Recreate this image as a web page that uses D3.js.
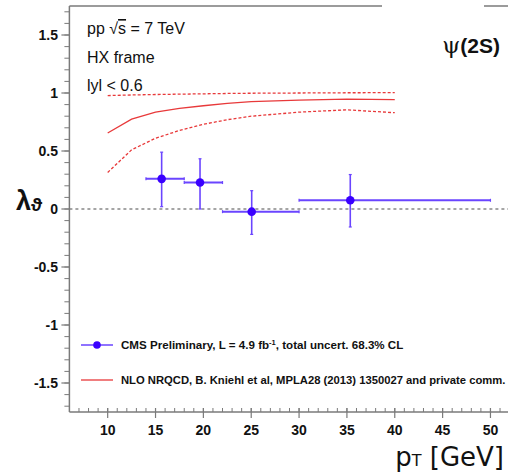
<!DOCTYPE html>
<html><head><meta charset="utf-8">
<script src="https://cdn.jsdelivr.net/npm/d3@7"></script>
<style>
html,body{margin:0;padding:0;background:#fff;}
svg{display:block;}
text{font-family:"Liberation Sans",Arial,Helvetica,sans-serif;}
</style></head>
<body>
<script>
// ---- data ----
const xTickValues = [10, 15, 20, 25, 30, 35, 40, 45, 50];
const yTickValues = [-1.5, -1, -0.5, 0, 0.5, 1, 1.5];
const yTickLabels = ["-1.5", "-1", "-0.5", "0", "0.5", "1", "1.5"];

const ptCenter = [15.64, 19.65, 25.05, 35.35];
const ptLow    = [14, 18, 22, 30];
const ptHigh   = [18, 22, 30, 50];
const lambdaTheta = [0.26, 0.228, -0.023, 0.075];
const lambdaErrTop = [0.49, 0.433, 0.158, 0.297];
const lambdaErrBottom = [0.02, 0.0, -0.219, -0.155];

const theoryPt      = [10, 12.5, 15, 17.5, 20, 22.5, 25, 30, 35, 40];
const theoryCentral = [0.655, 0.775, 0.835, 0.867, 0.89, 0.91, 0.926, 0.938, 0.948, 0.943];
const theoryLower   = [0.315, 0.51, 0.61, 0.677, 0.73, 0.77, 0.80, 0.835, 0.855, 0.83];
const theoryUpper   = [0.978, 0.983, 0.987, 0.99, 0.993, 0.996, 0.998, 1.0, 1.002, 1.003];

const legendLabels = ["CMS Preliminary, L = 4.9 fb", "NLO NRQCD, B. Kniehl et al, MPLA28 (2013) 1350027 and private comm."];

// ---- layout ----
const W = 508, H = 473;
const svg = d3.select("body").append("svg").attr("width", W).attr("height", H);
const x = d3.scaleLinear().domain([6, 52]).range([69.4, 509.6]);
const y = d3.scaleLinear().domain([-1.75, 1.75]).range([412, 6]);

const axisColor = "#7a7a7a";
const blue = "#3a00ff";
const blueLine = "#6a45ff";
const red = "#e8393a";

// frame top line
svg.append("line").attr("x1", x(6)).attr("x2", W).attr("y1", y(1.75)).attr("y2", y(1.75))
  .attr("stroke", axisColor).attr("stroke-width", 1.5);
// white box behind psi(2S) label (covers frame)
svg.append("rect").attr("x", 382).attr("y", 0).attr("width", 102).attr("height", 14).attr("fill", "#fff");

// zero line
svg.append("line").attr("x1", x(6)).attr("x2", W).attr("y1", y(0)).attr("y2", y(0))
  .attr("stroke", "#888").attr("stroke-width", 1.3).attr("stroke-dasharray", "3,3");

// y axis
const gy = svg.append("g");
gy.append("line").attr("x1", x(6)).attr("x2", x(6)).attr("y1", y(1.75)).attr("y2", y(-1.75))
  .attr("stroke", axisColor).attr("stroke-width", 1.5);
const yMinor = d3.range(-17, 18).map(d => d / 10);
gy.selectAll("line.minor").data(yMinor).enter().append("line").attr("class", "minor")
  .attr("x1", x(6) - 5).attr("x2", x(6)).attr("y1", d => y(d)).attr("y2", d => y(d))
  .attr("stroke", axisColor).attr("stroke-width", 1);
gy.selectAll("line.major").data(yTickValues).enter().append("line").attr("class", "major")
  .attr("x1", x(6) - 8).attr("x2", x(6)).attr("y1", d => y(d)).attr("y2", d => y(d))
  .attr("stroke", axisColor).attr("stroke-width", 1.2);
gy.selectAll("text").data(yTickValues).enter().append("text")
  .attr("x", 58).attr("y", d => y(d) + 5).attr("text-anchor", "end")
  .attr("font-size", 14).attr("font-weight", "bold").attr("fill", "#111")
  .text((d, i) => yTickLabels[i]);

// x axis
const gx = svg.append("g");
gx.append("line").attr("x1", x(6)).attr("x2", W).attr("y1", y(-1.75)).attr("y2", y(-1.75))
  .attr("stroke", axisColor).attr("stroke-width", 1.5);
const xMinor = d3.range(7, 53);
gx.selectAll("line.minor").data(xMinor).enter().append("line").attr("class", "minor")
  .attr("x1", d => x(d)).attr("x2", d => x(d)).attr("y1", y(-1.75) - 4).attr("y2", y(-1.75))
  .attr("stroke", axisColor).attr("stroke-width", 1);
gx.selectAll("line.major").data(xTickValues).enter().append("line").attr("class", "major")
  .attr("x1", d => x(d)).attr("x2", d => x(d)).attr("y1", y(-1.75) - 4).attr("y2", y(-1.75) + 6)
  .attr("stroke", axisColor).attr("stroke-width", 1.2);
gx.selectAll("text").data(xTickValues).enter().append("text")
  .attr("x", d => x(d)).attr("y", 435).attr("text-anchor", "middle")
  .attr("font-size", 14).attr("font-weight", "bold").attr("fill", "#111")
  .text(d => d);

// axis titles
const yt = svg.append("text").attr("x", 16).attr("y", 210).attr("fill", "#111");
yt.append("tspan").attr("font-size", 27).attr("font-weight", "bold").text("λ");
yt.append("tspan").attr("font-size", 19).attr("font-weight", "bold").attr("dy", 1).text("ϑ");

const xt = svg.append("text").attr("x", 504).attr("y", 466).attr("text-anchor", "end")
  .attr("fill", "#111").style("font-family", "'DejaVu Sans', sans-serif");
xt.append("tspan").attr("font-size", 26).text("p");
xt.append("tspan").attr("font-size", 16).text("T");
xt.append("tspan").attr("font-size", 26).text(" [GeV]");

// annotations
svg.append("text").attr("x", 87).attr("y", 34).attr("font-size", 16).attr("fill", "#111")
  .html('pp √<tspan text-decoration="overline">s</tspan> = 7 TeV');
svg.append("text").attr("x", 87).attr("y", 63).attr("font-size", 16).attr("fill", "#111").text("HX frame");
svg.append("text").attr("x", 87).attr("y", 91).attr("font-size", 16).attr("fill", "#111").text("lyl < 0.6");

const psi = svg.append("text").attr("x", 500).attr("y", 53).attr("text-anchor", "end").attr("fill", "#111");
psi.append("tspan").attr("font-size", 23).style("font-family", "'DejaVu Serif', serif").text("ψ");
psi.append("tspan").attr("font-size", 21).attr("font-weight", "bold").text("(2S)");

// theory curves
const th = theoryPt.map((p, i) => ({p, c: theoryCentral[i], lo: theoryLower[i], hi: theoryUpper[i]}));
const lineC = d3.line().x(d => x(d.p)).y(d => y(d.c));
const lineLo = d3.line().x(d => x(d.p)).y(d => y(d.lo));
const lineHi = d3.line().x(d => x(d.p)).y(d => y(d.hi));
svg.append("path").attr("d", lineC(th)).attr("fill", "none").attr("stroke", red).attr("stroke-width", 1.3);
svg.append("path").attr("d", lineLo(th)).attr("fill", "none").attr("stroke", red).attr("stroke-width", 1.3).attr("stroke-dasharray", "3,2");
svg.append("path").attr("d", lineHi(th)).attr("fill", "none").attr("stroke", red).attr("stroke-width", 1.3).attr("stroke-dasharray", "3,2");

// data points
const pts = ptCenter.map((p, i) => ({p, lo: ptLow[i], hi: ptHigh[i], v: lambdaTheta[i], t: lambdaErrTop[i], b: lambdaErrBottom[i]}));
const gp = svg.append("g");
gp.selectAll("line.h").data(pts).enter().append("line")
  .attr("x1", d => x(d.lo)).attr("x2", d => x(d.hi)).attr("y1", d => y(d.v)).attr("y2", d => y(d.v))
  .attr("stroke", blueLine).attr("stroke-width", 2);
gp.selectAll("line.v").data(pts).enter().append("line")
  .attr("x1", d => x(d.p)).attr("x2", d => x(d.p)).attr("y1", d => y(d.t)).attr("y2", d => y(d.b))
  .attr("stroke", blueLine).attr("stroke-width", 1.6);
// small end caps
pts.forEach(d => {
  [[x(d.lo), y(d.v), 0], [x(d.hi), y(d.v), 0], [x(d.p), y(d.t), 1], [x(d.p), y(d.b), 1]].forEach(([cx, cy, vert]) => {
    gp.append("line")
      .attr("x1", vert ? cx - 1.5 : cx).attr("x2", vert ? cx + 1.5 : cx)
      .attr("y1", vert ? cy : cy - 1.5).attr("y2", vert ? cy : cy + 1.5)
      .attr("stroke", blueLine).attr("stroke-width", 1.2);
  });
});
gp.selectAll("circle").data(pts).enter().append("circle")
  .attr("cx", d => x(d.p)).attr("cy", d => y(d.v)).attr("r", 4.3).attr("fill", blue);

// legend
const lg = svg.append("g");
lg.append("line").attr("x1", 81).attr("x2", 113).attr("y1", 345).attr("y2", 345).attr("stroke", blueLine).attr("stroke-width", 1.5);
lg.append("circle").attr("cx", 97).attr("cy", 345).attr("r", 3.8).attr("fill", blue);
const t1 = lg.append("text").attr("x", 121).attr("y", 349).attr("font-size", 11.6).attr("font-weight", "bold").attr("fill", "#111");
t1.append("tspan").text(legendLabels[0]);
t1.append("tspan").attr("font-size", 7.5).attr("dy", -4).text("-1");
t1.append("tspan").attr("dy", 4).text(", total uncert. 68.3% CL");
lg.append("line").attr("x1", 81).attr("x2", 113).attr("y1", 380).attr("y2", 380).attr("stroke", red).attr("stroke-width", 1.3);
lg.append("text").attr("x", 121).attr("y", 384).attr("font-size", 11.25).attr("font-weight", "bold").attr("fill", "#111")
  .text(legendLabels[1]);
</script>
</body></html>
